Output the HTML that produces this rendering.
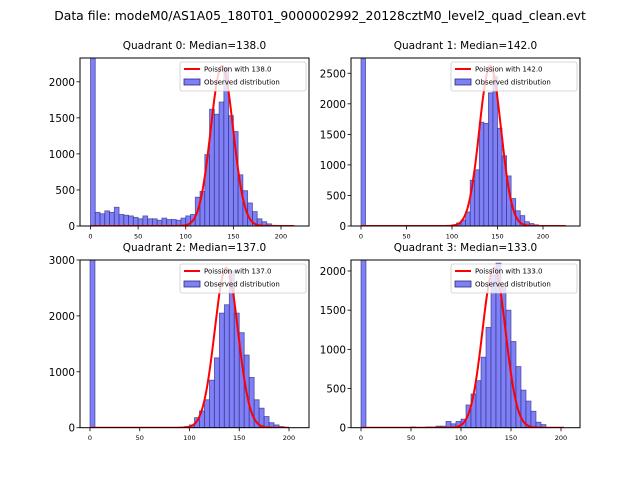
<!DOCTYPE html>
<html><head><meta charset="utf-8"><style>
body{margin:0;background:#fff;}
svg{display:block;font-family:"DejaVu Sans","Liberation Sans",sans-serif;}
</style></head><body>
<svg id="fig" width="640" height="480" viewBox="0 0 640 480">
<text x="320" y="20" text-anchor="middle" font-size="12.4">Data file: modeM0/AS1A05_180T01_9000002992_20128cztM0_level2_quad_clean.evt</text>
</svg>
<script>
// Quadrant data: bin starts (width 5), counts
const binWidth = 5;
const medians = [138, 142, 137, 133];
const poissonPeaks = [2220, 2620, 2860, 2040];
const curveMax = [214, 225, 200, 203];
const yMax = [2330, 2750, 3000, 2140];
const yTicks = [[0,500,1000,1500,2000],[0,500,1000,1500,2000,2500],[0,1000,2000,3000],[0,500,1000,1500,2000]];
const xTicks = [0,50,100,150,200];
const bins0 = [0,5,10,15,20,25,30,35,40,45,50,55,60,65,70,75,80,85,90,95,100,105,110,115,120,125,130,135,140,145,150,155,160,165,170,175,180,185,190];
const counts0 = [9000,190,170,210,190,260,160,150,140,120,100,140,100,100,80,110,90,90,80,110,140,160,400,480,990,1620,1550,1720,2200,1530,1310,710,490,320,200,100,60,30,10];
const bins1 = [0,50,100,105,110,115,120,125,130,135,140,145,150,155,160,165,170,175,180,185,190,195];
const counts1 = [9000,5,20,50,100,230,750,920,1700,1680,2180,2450,1600,1150,820,450,250,170,70,40,20,10];
const bins2 = [0,95,100,105,110,115,120,125,130,135,140,145,150,155,160,165,170,175,180,185,190];
const counts2 = [9000,20,50,180,300,500,850,1250,2050,2200,2800,2050,1700,1300,900,500,350,200,90,50,20];
const bins3 = [0,50,65,70,75,80,85,90,95,100,105,110,115,120,125,130,135,140,145,150,155,160,165,170,175,180];
const counts3 = [9000,10,10,10,20,20,80,50,80,110,290,430,600,900,1280,1950,2100,1800,1500,1100,780,480,340,210,70,40];
const allBins=[bins0,bins1,bins2,bins3], allCounts=[counts0,counts1,counts2,counts3];
// layout
const axes=[{l:80,r:309,t:58,b:226,x0:90.5,x200:281},{l:351,r:580,t:58,b:226,x0:361,x200:543},
            {l:80,r:309,t:260,b:427.7,x0:90,x200:289},{l:351,r:580,t:260,b:427.7,x0:361,x200:561}];
const NS="http://www.w3.org/2000/svg";
const fig=document.getElementById('fig');
function mk(tag,attrs,parent){const e=document.createElementNS(NS,tag);for(const k in attrs)e.setAttribute(k,attrs[k]);(parent||fig).appendChild(e);return e;}
axes.forEach((A,q)=>{
  const sx=v=>A.x0+(A.x200-A.x0)*v/200;
  const sy=v=>A.b-(A.b-A.t)*v/yMax[q];
  const g=mk('g',{});
  
  
  const cp=mk('clipPath',{id:'cp'+q},g);
  mk('rect',{x:A.l,y:A.t,width:A.r-A.l,height:A.b-A.t},cp);
  const t=mk('text',{x:(A.l+A.r)/2,y:A.t-9,'text-anchor':'middle','font-size':'10.5'},g);
  t.textContent='Quadrant '+q+': Median='+medians[q].toFixed(1);
  
  
  const bars=mk('g',{'clip-path':'url(#cp'+q+')'},g);
  allBins[q].forEach((b,i)=>{
    const r=mk('rect',{x:sx(b),y:sy(allCounts[q][i]),width:sx(b+binWidth)-sx(b),height:Math.max(0,A.b-sy(allCounts[q][i])),fill:'#7f7ff6',stroke:'#2a2a80','stroke-width':'0.8','stroke-opacity':'0.7'},bars);
    
    
  });
  // Poisson curve (gaussian approx, sigma = sqrt(mean))
  const m=medians[q], s=Math.sqrt(m); let d='';
  for(let x=0;x<=curveMax[q];x+=1){const y=poissonPeaks[q]*Math.exp(-(x-m)*(x-m)/(2*s*s));d+=(x?'L':'M')+sx(x).toFixed(1)+','+sy(y).toFixed(1);}
  const p=mk('path',{d:d,fill:'none',stroke:'#ff0000','stroke-width':'2','clip-path':'url(#cp'+q+')'},g);
  
  
  mk('rect',{x:A.l,y:A.t,width:A.r-A.l,height:A.b-A.t,fill:'none',stroke:'#000','stroke-width':'1'},g);
  yTicks[q].forEach(v=>{
    mk('line',{x1:A.l-3.5,x2:A.l,y1:sy(v),y2:sy(v),stroke:'#000','stroke-width':'0.8'},g);
    const tl=mk('text',{x:A.l-5,y:sy(v)+4,'text-anchor':'end','font-size':'10.3'},g);
    tl.textContent=v;
    
    
  });
  xTicks.forEach(v=>{
    mk('line',{x1:sx(v),x2:sx(v),y1:A.b,y2:A.b+3.5,stroke:'#000','stroke-width':'0.8'},g);
    const tl=mk('text',{x:sx(v),y:A.b+12.5,'text-anchor':'middle','font-size':'6.5'},g);
    tl.textContent=v;
    
    
  });
  // legend
  const lg=mk('g',{},g);
  
  
  const lx=A.r-129, ly=A.t+4;
  mk('rect',{x:lx,y:ly,width:126,height:29,rx:2,fill:'#fff','fill-opacity':'0.8',stroke:'#ccc','stroke-width':'0.8'},lg);
  mk('line',{x1:lx+4,x2:lx+20,y1:ly+7,y2:ly+7,stroke:'#ff0000','stroke-width':'2'},lg);
  const l1=mk('text',{x:lx+24,y:ly+9.5,'font-size':'7'},lg);l1.textContent='Poission with '+medians[q].toFixed(1);
  mk('rect',{x:lx+4,y:ly+17,width:16,height:6,fill:'#7f7ff6',stroke:'#2a2a80','stroke-width':'0.8'},lg);
  const l2=mk('text',{x:lx+24,y:ly+22.5,'font-size':'7'},lg);l2.textContent='Observed distribution';
});
</script>
</body></html>
